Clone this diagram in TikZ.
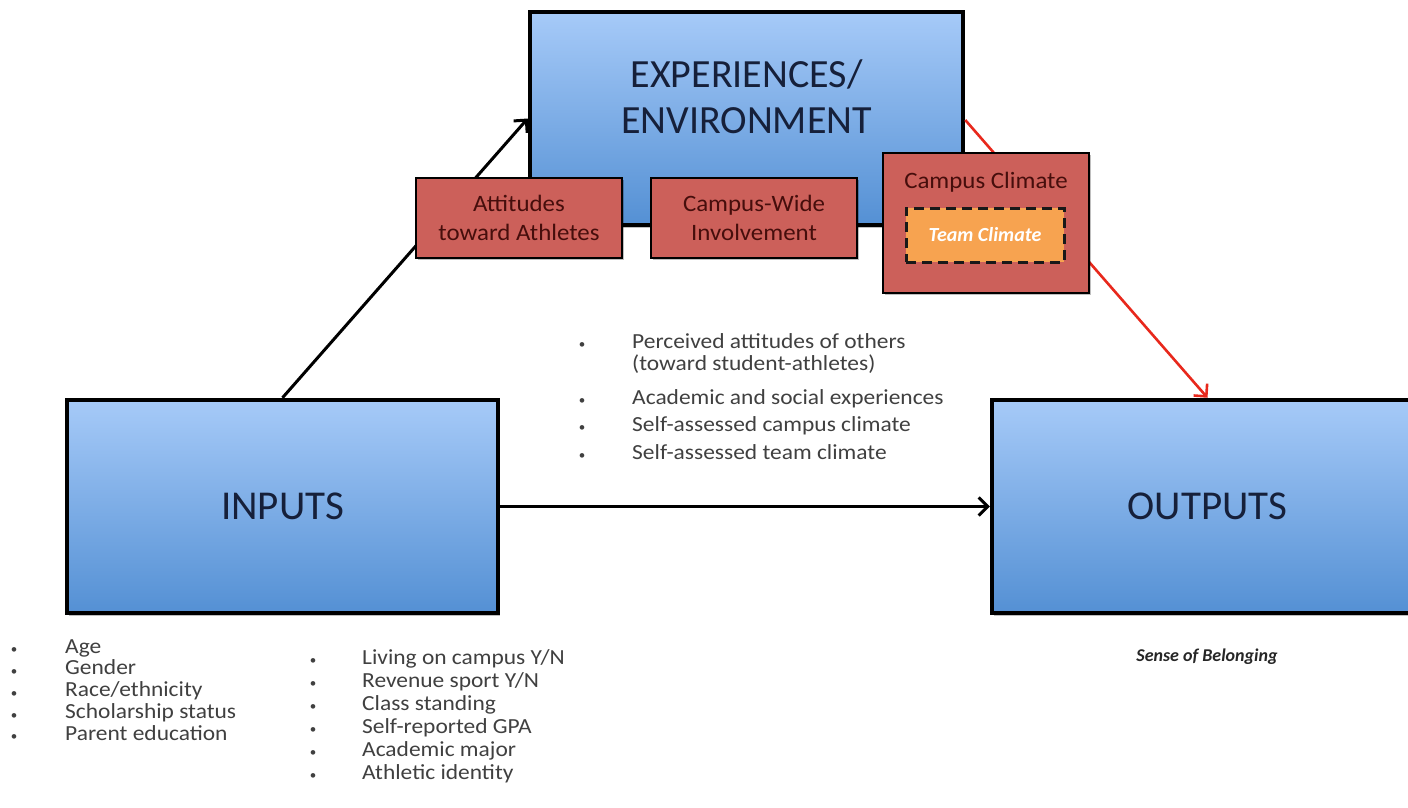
\documentclass[tikz,border=0pt]{standalone}
\usepackage{fontspec}
\setmainfont{Carlito}
\newfontfamily\widefont[FakeStretch=1.09]{Carlito}
\newfontfamily\redfont[FakeStretch=1.06]{Carlito}
\usetikzlibrary{arrows.meta,shadows,calc}
\definecolor{bluetop}{RGB}{166,202,248}
\definecolor{bluebot}{RGB}{84,144,212}
\definecolor{navy}{RGB}{22,32,58}
\definecolor{redfill}{RGB}{204,96,90}
\definecolor{redtext}{RGB}{70,14,12}
\definecolor{teamfill}{RGB}{247,163,80}
\definecolor{listgray}{RGB}{64,64,64}
\definecolor{arrowred}{RGB}{232,40,28}
\tikzset{
  bluebox/.style={draw=black, line width=4.5pt, top color=bluetop, bottom color=bluebot,
    minimum height=213pt, inner sep=0pt, text=navy,
    font=\fontsize{41}{46}\selectfont,
    drop shadow={shadow xshift=2pt, shadow yshift=-3pt, opacity=0.25, fill=black}},
  redbox/.style={draw=black, line width=2.5pt, fill=redfill, inner sep=0pt,
    minimum width=206pt, text=redtext, align=center,
    font=\redfont\fontsize{23.5}{29}\selectfont,
    drop shadow={shadow xshift=1.5pt, shadow yshift=-2pt, opacity=0.25, fill=black}},
  teambox/.style={draw=black!90, line width=3pt, dash pattern=on 10pt off 6pt,
    fill=teamfill, inner sep=0pt, minimum width=158pt, minimum height=54pt,
    text=white, font=\fontsize{20}{22}\selectfont\bfseries\itshape},
  listtxt/.style={text=listgray, inner sep=0pt, font=\widefont\fontsize{21.5}{22}\selectfont},
  bul/.style={text=listgray, inner sep=0pt, font=\fontsize{13}{14}\selectfont},
  conn/.style={line width=3pt, -{Straight Barb[length=9pt,width=18pt,line width=3pt]}},
}
\begin{document}
\begin{tikzpicture}[x=1pt,y=-1pt]
\clip (0,0) rectangle (1408,807);
\fill[white] (0,0) rectangle (1408,807);

% blue boxes
\node[bluebox, minimum width=431pt] (inputs) at (282.5,506.5) {INPUTS};
\node[bluebox, minimum width=431pt] (outputs) at (1207.5,506.5) {OUTPUTS};
\node[bluebox, minimum width=433pt] (exp) at (746.5,118.5) {};
\node[text=navy, align=center, inner sep=0pt, font=\fontsize{40}{46}\selectfont] (exptext) at (746.5,97) {EXPERIENCES/\\ENVIRONMENT};

% connectors
\draw[conn] (inputs.north) -- (exp.west);
\draw[conn] (inputs.east) -- (outputs.west);
\draw[conn, draw=arrowred, line width=2.6pt, -{Straight Barb[length=9pt,width=18pt,line width=2.6pt]}] ($(exp.east)+(0,1.5)$) -- (outputs.north);

% red boxes
\node[redbox, minimum height=80pt] (att) at (519,218) {Attitudes\\toward Athletes};
\node[redbox, minimum height=80pt] (cwi) at (754,218) {Campus-Wide\\Involvement};
\node[redbox, minimum height=140pt] (cc) at (986,223) {};
\node[text=redtext, inner sep=0pt, font=\redfont\fontsize{23.5}{29}\selectfont] (cctext) at (986,182) {Campus Climate};
\node[teambox] (team) at (985,235) {Team Climate};

% middle list
\foreach \t/\yy [count=\i] in {Perceived attitudes of others/348,(toward student-athletes)/370,Academic and social experiences/404,Self-assessed campus climate/431,Self-assessed team climate/459}
  \node[listtxt, anchor=base west] (m\i) at (632,\yy) {\t};
\foreach \yy [count=\i] in {346,402,429,457}
  \node[bul] (mb\i) at (582,\yy) {•};

% lower left list
\foreach \t [count=\i] in {Age,Gender,Race/ethnicity,Scholarship status,Parent education}
  \node[listtxt, anchor=base west] (a\i) at (65,{653+21.75*(\i-1)}) {\t};
\foreach \i in {1,...,5}
  \node[bul] (ab\i) at (14,{651+21.75*(\i-1)}) {•};

% second list
\foreach \t [count=\i] in {Living on campus Y/N,Revenue sport Y/N,Class standing,Self-reported GPA,Academic major,Athletic identity}
  \node[listtxt, anchor=base west] (b\i) at (362,{664+23*(\i-1)}) {\t};
\foreach \i in {1,...,6}
  \node[bul] (bb\i) at (313,{662+23*(\i-1)}) {•};

\node[text=black!85, inner sep=0pt, font=\fontsize{18}{22}\selectfont\bfseries\itshape] (sob) at (1207,657) {Sense of Belonging};
\end{tikzpicture}
\end{document}
